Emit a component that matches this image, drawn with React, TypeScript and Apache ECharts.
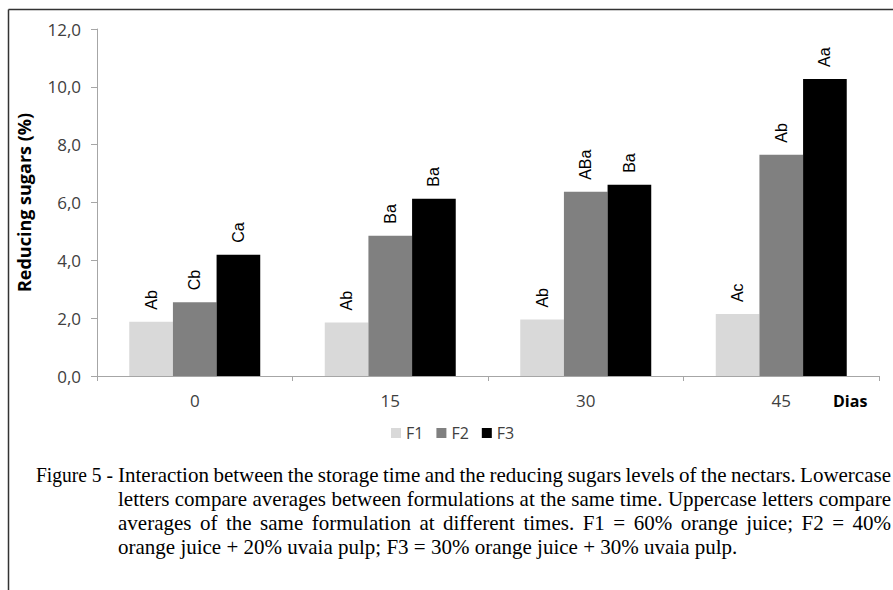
import React, { useEffect, useRef } from "react";
import * as echarts from "echarts";

const categories = ["0", "15", "30", "45"];
const seriesNames = ["F1", "F2", "F3"];
const f1Values = [1.88, 1.85, 1.95, 2.14];
const f2Values = [2.55, 4.85, 6.37, 7.65];
const f3Values = [4.19, 6.13, 6.61, 10.27];
const f1Letters = ["Ab", "Ab", "Ab", "Ac"];
const f2Letters = ["Cb", "Ba", "ABa", "Ab"];
const f3Letters = ["Ca", "Ba", "Ba", "Aa"];
const yTickLabels = ["0,0", "2,0", "4,0", "6,0", "8,0", "10,0", "12,0"];
const seriesColors = ["#d9d9d9", "#808080", "#000000"];
const yTitle = "Reducing sugars (%)";
const xTitle = "Dias";
const captionPrefix = "Figure 5 -";
const captionLines = [
  "Interaction between the storage time and the reducing sugars levels of the nectars. Lowercase",
  "letters compare averages between formulations at the same time. Uppercase letters compare",
  "averages of the same formulation at different times. F1 = 60% orange juice; F2 = 40%",
  "orange juice + 20% uvaia pulp; F3 = 30% orange juice + 30% uvaia pulp.",
];

const CAP_FONT = '21px "Liberation Serif"';

function measure(ctx: CanvasRenderingContext2D | null, s: string): number {
  if (!ctx) return s.length * 8.7;
  return ctx.measureText(s).width;
}

export default function App() {
  const ref = useRef<HTMLDivElement>(null);
  useEffect(() => {
    if (!ref.current) return;
    const chart = echarts.init(ref.current, null, { renderer: "svg" });
    const canvas = document.createElement("canvas");
    const ctx = canvas.getContext("2d");
    if (ctx) ctx.font = CAP_FONT;

    const capLeft = 118;
    const capRight = 891;
    const capTop = 464;
    const lineH = 24;
    const captionEls: any[] = [];
    const prefixW = measure(ctx, captionPrefix);
    captionEls.push({
      type: "text",
      x: 36,
      y: capTop,
      scaleX: Math.min(1, (capLeft - 5 - 36) / prefixW),
      style: { text: captionPrefix, font: CAP_FONT, fill: "#000" },
    });
    captionLines.forEach((line, i) => {
      const y = capTop + i * lineH;
      const justify = i < captionLines.length - 1;
      if (!justify) {
        captionEls.push({
          type: "text",
          x: capLeft,
          y: y,
          style: { text: line, font: CAP_FONT, fill: "#000" },
        });
        return;
      }
      const words = line.split(" ");
      const widths = words.map((w) => measure(ctx, w));
      const total = widths.reduce((a, b) => a + b, 0);
      const gap = Math.max(3, (capRight - capLeft - total) / (words.length - 1));
      let x = capLeft;
      words.forEach((w, j) => {
        captionEls.push({
          type: "text",
          x: x,
          y: y,
          style: { text: w, font: CAP_FONT, fill: "#000" },
        });
        x += widths[j] + gap;
      });
    });

    const mkLabel = (letters: string[]) => ({
      show: true,
      position: "top",
      distance: 12,
      rotate: 90,
      align: "left",
      verticalAlign: "middle",
      fontFamily: "Liberation Sans",
      fontSize: 16,
      color: "#000",
      formatter: (p: any) => letters[p.dataIndex],
    });

    const values = [f1Values, f2Values, f3Values];
    const letters = [f1Letters, f2Letters, f3Letters];

    chart.setOption({
      animation: false,
      backgroundColor: "#fff",
      grid: { left: 97, right: 14, top: 29, bottom: 214, containLabel: false },
      legend: {
        data: seriesNames,
        left: 386,
        top: 420,
        itemWidth: 10,
        itemHeight: 10,
        itemGap: 13,
        icon: "rect",
        textStyle: { fontFamily: "Open Sans", fontSize: 16, color: "#404040" },
      },
      xAxis: {
        type: "category",
        data: categories,
        axisLine: { lineStyle: { color: "#a6a6a6", width: 1 } },
        axisTick: { show: true, length: 5, lineStyle: { color: "#a6a6a6" } },
        axisLabel: { margin: 16, fontFamily: "Open Sans", fontSize: 17, color: "#404040" },
      },
      yAxis: {
        type: "value",
        min: 0,
        max: 12,
        interval: 2,
        name: yTitle,
        nameLocation: "middle",
        nameGap: 64,
        nameRotate: 90,
        nameTextStyle: { fontFamily: "Open Sans", fontWeight: "bold", fontSize: 18, color: "#000" },
        axisLine: { show: true, lineStyle: { color: "#a6a6a6", width: 1 } },
        axisTick: { show: true, length: 6, lineStyle: { color: "#a6a6a6" } },
        splitLine: { show: false },
        axisLabel: {
          margin: 16,
          fontFamily: "Open Sans",
          fontSize: 17,
          color: "#404040",
          formatter: (v: number) => yTickLabels[Math.round(v / 2)],
        },
      },
      series: seriesNames.map((name, i) => ({
        name,
        type: "bar",
        data: values[i],
        barGap: "0%",
        barCategoryGap: "33%",
        itemStyle: { color: seriesColors[i] },
        label: mkLabel(letters[i]),
      })),
      graphic: [
        {
          type: "line",
          shape: { x1: 8.5, y1: 9.5, x2: 893, y2: 9.5 },
          style: { stroke: "#333", lineWidth: 1.5 },
        },
        {
          type: "line",
          shape: { x1: 8.5, y1: 9.5, x2: 8.5, y2: 590 },
          style: { stroke: "#333", lineWidth: 1.5 },
        },
        {
          type: "text",
          left: 833,
          top: 393,
          style: { text: xTitle, fontFamily: "Open Sans", fontWeight: "bold", fontSize: 16, fill: "#000" },
        },
        ...captionEls,
      ],
    });
    return () => chart.dispose();
  }, []);
  return (
    <div
      ref={ref}
      style={{ position: "fixed", left: 0, top: 0, width: 893, height: 590, background: "#fff" }}
    />
  );
}
